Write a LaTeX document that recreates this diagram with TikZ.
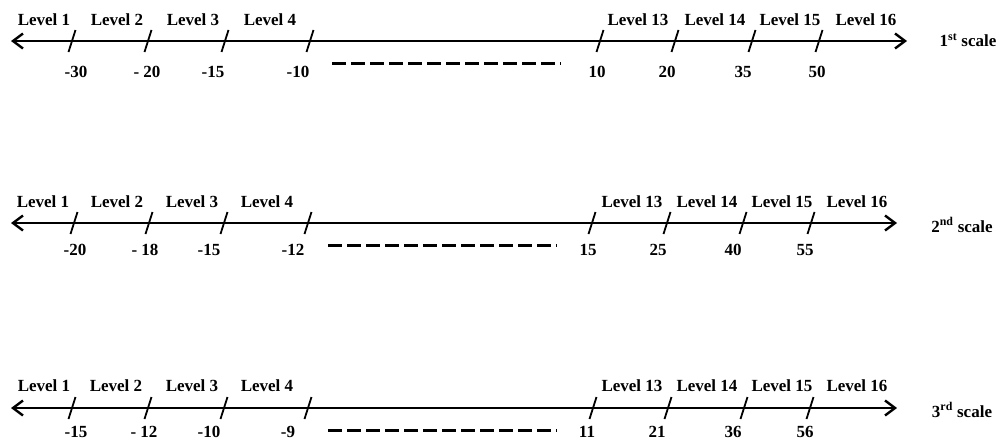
\documentclass[tikz,border=0pt]{standalone}
\usepackage{fontspec}
\setmainfont{Liberation Serif}
\usetikzlibrary{arrows.meta}

\begin{document}
\begin{tikzpicture}[x=1pt, y=-1pt,
        every node/.style={font=\bfseries\fontsize{17}{19}\selectfont, inner sep=0pt},
        axisline/.style={line width=2.4pt, {Straight Barb[length=10pt,width=15pt]}-{Straight Barb[length=10pt,width=15pt]}},
        tickmark/.style={line width=1.8pt},
        gapline/.style={line width=3pt, dash pattern=on 13.5pt off 5.5pt}]
    \useasboundingbox (0,0) rectangle (1003,447);

    % 1st scale
    \coordinate (a1) at (11,41);
    \coordinate (b1) at (907,41);
    \draw[axisline] (a1) -- (b1);
    \node (s1) at (968,40) {1\textsuperscript{st} scale};
    \foreach \t/\n/\v/\l/\lv [count=\i] in {72/76/-30/44/1, 148/147/{- 20}/117/2, 225/213/-15/193/3, 310/298/-10/270/4,
            600/597/10/638/13, 675/667/20/715/14, 752/743/35/790/15, 819/817/50/866/16} {
        \coordinate (t1-\i) at (\t,41);
        \draw[tickmark] ([shift={(-3.5,11)}]t1-\i) -- ([shift={(3.5,-11)}]t1-\i);
        \node (n1-\i) at (\n,72) {\v};
        \node (l1-\i) at (\l,20) {Level \lv};
    }
    \coordinate (d1a) at (332,63);
    \coordinate (d1b) at (561,63);
    \draw[gapline] (d1a) -- (d1b);

    % 2nd scale
    \coordinate (a2) at (11,223);
    \coordinate (b2) at (897,223);
    \draw[axisline] (a2) -- (b2);
    \node (s2) at (962,225) {2\textsuperscript{nd} scale};
    \foreach \t/\n/\v/\l/\lv [count=\i] in {74/75/-20/43/1, 149/145/{- 18}/117/2, 224/209/-15/192/3, 308/293/-12/267/4,
            592/588/15/632/13, 667/658/25/707/14, 743/733/40/782/15, 811/805/55/857/16} {
        \coordinate (t2-\i) at (\t,223);
        \draw[tickmark] ([shift={(-3.5,11)}]t2-\i) -- ([shift={(3.5,-11)}]t2-\i);
        \node (n2-\i) at (\n,250) {\v};
        \node (l2-\i) at (\l,201.5) {Level \lv};
    }
    \coordinate (d2a) at (328,245);
    \coordinate (d2b) at (557,245);
    \draw[gapline] (d2a) -- (d2b);

    % 3rd scale
    \coordinate (a3) at (11,408);
    \coordinate (b3) at (897,408);
    \draw[axisline] (a3) -- (b3);
    \node (s3) at (962,410) {3\textsuperscript{rd} scale};
    \foreach \t/\n/\v/\l/\lv [count=\i] in {72/76/-15/44/1, 148/144/{- 12}/116/2, 224/209/-10/192/3, 308/288/-9/267/4,
            593/587/11/632/13, 668/657/21/707/14, 744/733/36/782/15, 810/805/56/857/16} {
        \coordinate (t3-\i) at (\t,408);
        \draw[tickmark] ([shift={(-3.5,11)}]t3-\i) -- ([shift={(3.5,-11)}]t3-\i);
        \node (n3-\i) at (\n,432) {\v};
        \node (l3-\i) at (\l,385.5) {Level \lv};
    }
    \coordinate (d3a) at (328,430);
    \coordinate (d3b) at (557,430);
    \draw[gapline] (d3a) -- (d3b);
\end{tikzpicture}
\end{document}
